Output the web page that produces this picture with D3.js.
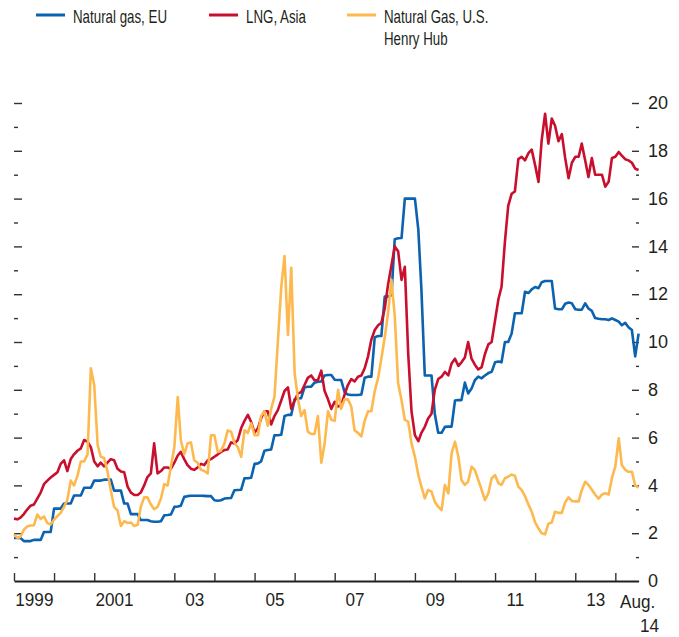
<!DOCTYPE html>
<html>
<head>
<meta charset="utf-8">
<script src="https://cdn.jsdelivr.net/npm/d3@7"></script>
<style>
  body { margin: 0; background: #fff; }
  svg text { font-family: "Liberation Sans", Arial, sans-serif; fill: #231f20; }
</style>
</head>
<body>
<div id="chart"></div>
<script>
// monthly prices, $/MMBtu, Jan 1999 .. Aug 2014

const euGas = [
  1.8, 1.8, 1.8, 1.67, 1.67, 1.67, 1.72, 1.72, 1.72, 2.05, 2.05, 2.05,
  3.03, 3.03, 3.03, 3.24, 3.24, 3.24, 3.58, 3.58, 3.58, 3.9, 3.9, 3.9,
  4.2, 4.2, 4.2, 4.24, 4.24, 4.24, 3.78, 3.78, 3.78, 3.24, 3.24, 2.8,
  2.8, 2.8, 2.55, 2.55, 2.55, 2.5, 2.48, 2.48, 2.5, 2.75, 2.76, 2.78,
  3.1, 3.12, 3.15, 3.52, 3.55, 3.57, 3.57, 3.57, 3.57, 3.56, 3.55, 3.55,
  3.38, 3.36, 3.38, 3.45, 3.46, 3.47, 3.8, 3.81, 3.82, 4.3, 4.3, 4.32,
  4.9, 4.92, 5.0, 5.45, 5.48, 5.5, 6.1, 6.1, 6.12, 6.9, 6.95, 6.95,
  7.6, 7.64, 7.65, 8.1, 8.13, 8.13, 8.3, 8.34, 8.35, 8.6, 8.62, 8.62,
  8.42, 8.41, 8.41, 7.9, 7.8, 7.78, 7.78, 7.78, 7.8, 8.5, 8.55, 8.55,
  10.2, 10.25, 10.25, 11.9, 11.9, 11.95, 14.3, 14.34, 14.35, 16.0, 16.0, 16.0,
  16.0, 14.7, 12.2, 8.6, 8.6, 8.6, 7.0, 6.2, 6.2, 6.45, 6.46, 6.46,
  7.55, 7.57, 7.57, 8.3, 7.85, 8.05, 8.4, 8.55, 8.48, 8.6, 8.7, 8.75,
  9.15, 9.18, 9.15, 10.0, 10.0, 10.35, 11.2, 11.2, 11.2, 12.1, 12.05, 12.2,
  12.3, 12.25, 12.5, 12.55, 12.55, 12.55, 11.4, 11.37, 11.37, 11.6, 11.65, 11.62,
  11.37, 11.35, 11.35, 11.62, 11.4, 11.3, 11.0, 10.97, 10.95, 10.95, 10.92, 10.99,
  10.92, 10.85, 10.7, 10.8, 10.62, 10.5, 9.4, 10.35
];

const lngAsia = [
  2.61, 2.58, 2.65, 2.8, 2.99, 3.15, 3.2, 3.45, 3.7, 4.05, 4.2, 4.33,
  4.44, 4.55, 4.9, 5.05, 4.6, 5.1, 5.3, 5.45, 5.55, 5.9, 5.83, 5.6,
  5.0, 4.8, 4.95, 4.8, 4.95, 5.1, 5.05, 4.7, 4.58, 4.55, 3.95, 3.7,
  3.6, 3.6, 3.7, 4.0, 4.35, 4.5, 5.76, 4.5, 4.6, 4.75, 4.75, 4.7,
  4.95, 5.25, 5.4, 5.1, 4.85, 4.7, 4.65, 4.75, 4.9, 4.85, 5.05, 5.1,
  5.2, 5.3, 5.4, 5.48, 5.5, 5.8, 5.75, 5.9, 6.4, 6.7, 6.95, 6.65,
  6.2, 6.4, 6.8, 7.1, 7.1, 6.55, 6.9, 7.15, 7.55, 7.95, 8.1, 7.2,
  7.55, 7.85, 7.9, 8.2, 8.5, 8.6, 8.4, 8.4, 8.8, 7.95, 7.6, 7.2,
  7.5, 7.3, 7.35, 7.8, 8.2, 8.45, 8.35, 8.55, 8.6, 8.9, 9.4, 10.1,
  10.5, 10.7, 10.8, 11.4, 12.4, 13.2, 14.0, 13.8, 12.6, 13.15, 9.5, 7.1,
  6.1, 5.85, 6.2, 6.45, 6.8, 7.0, 8.0, 8.45, 8.55, 8.75, 8.6, 9.1,
  9.3, 9.0, 9.15, 9.35, 10.0, 9.3, 9.05, 8.85, 8.95, 9.5, 9.9, 10.0,
  10.9, 11.8, 12.3, 14.2, 15.7, 16.2, 16.3, 17.65, 17.75, 17.6, 17.9, 18.05,
  17.4, 16.7, 18.45, 19.55, 18.3, 19.35, 19.05, 18.4, 18.7, 17.7, 16.85, 17.5,
  17.75, 17.75, 18.3, 17.6, 16.9, 17.7, 17.0, 17.0, 17.0, 16.5, 16.7, 17.7,
  17.75, 17.95, 17.8, 17.65, 17.6, 17.5, 17.25, 17.2
];

const henryHub = [
  1.95, 1.8, 1.85, 2.15, 2.28, 2.32, 2.33, 2.78, 2.6, 2.7, 2.42, 2.36,
  2.57, 2.72, 2.85, 3.1, 3.4, 4.2, 4.0, 4.4, 5.0, 5.0, 5.3, 8.9,
  8.2, 5.7, 5.2, 5.15, 4.6, 3.8, 3.1, 2.95, 2.3, 2.5, 2.43, 2.45,
  2.3, 2.35, 3.1, 3.5, 3.5, 3.2, 3.0, 3.1, 3.45, 4.05, 4.0, 4.8,
  5.6, 7.7, 5.9, 5.3, 5.75, 5.8, 5.05, 4.95, 4.65, 4.6, 4.5, 6.1,
  6.1, 5.4, 5.45, 5.75, 6.3, 6.25, 5.8, 5.6, 5.2, 6.3, 6.2, 6.6,
  6.1, 6.1, 6.9, 7.1, 6.5, 7.2, 7.7, 10.0, 12.3, 13.6, 10.3, 13.1,
  8.7, 7.6, 6.9, 7.15, 6.25, 6.15, 6.15, 6.9, 4.95, 5.75, 7.1, 6.75,
  6.7, 8.0, 7.2, 7.6, 7.6, 7.3, 6.3, 6.2, 6.05, 6.7, 7.1, 7.1,
  7.95, 8.5, 9.3, 10.2, 11.2, 12.6, 11.1, 8.27, 7.57, 6.74, 6.67, 5.76,
  5.2, 4.43, 3.95, 3.46, 3.81, 3.74, 3.32, 3.11, 2.97, 4.02, 3.67, 5.34,
  5.83, 5.2, 4.23, 4.02, 4.16, 4.78, 4.64, 4.23, 3.81, 3.39, 3.67, 4.3,
  4.43, 4.09, 4.02, 4.3, 4.37, 4.45, 4.4, 3.95, 3.8, 3.55, 3.2, 2.9,
  2.45, 2.2, 2.0, 1.95, 2.4, 2.45, 2.9, 2.85, 2.85, 3.3, 3.5, 3.35,
  3.33, 3.33, 3.8, 4.15, 4.02, 3.82, 3.62, 3.45, 3.62, 3.67, 3.62, 4.3,
  4.8, 5.97, 4.85, 4.65, 4.57, 4.57, 4.0, 3.9
];

const seriesNames = ["Natural gas, EU", "LNG, Asia", "Natural Gas, U.S.|Henry Hub"];
const seriesColors = ["#0b62b0", "#c8102e", "#fdb94e"];
const yearLabels = ["1999", "2001", "03", "05", "07", "09", "11", "13"];
const yTickValues = [0, 2, 4, 6, 8, 10, 12, 14, 16, 18, 20];

const width = 679;
const height = 637;
const plot = { left: 14, right: 638.6, top: 103, bottom: 581 };

const startDate = new Date(1999, 0, 1);
const dates = euGas.map((d, i) => new Date(1999, i, 1));

const svg = d3.select('#chart')
  .append('svg')
  .attr('width', width)
  .attr('height', height);

const x = d3.scaleTime()
  .domain([startDate, dates[dates.length - 1]])
  .range([plot.left, plot.right]);

const y = d3.scaleLinear()
  .domain([0, 20])
  .range([plot.bottom, plot.top]);

// the original font is a condensed face, squeeze ours a bit
function squeeze(sel, f) {
  sel.each(function() {
    const w = this.getComputedTextLength();
    d3.select(this).attr('textLength', w * f).attr('lengthAdjust', 'spacingAndGlyphs');
  });
}

// y ticks, left side (no labels)
const minorVals = d3.range(1, 20, 2);
const majorVals = d3.range(2, 21, 2);

function styleTicks(g) {
  g.select('.domain').remove();
  g.selectAll('.tick line').attr('stroke', '#333').attr('stroke-width', 1.4);
  g.selectAll('.tick text').remove();
}

svg.append('g')
  .attr('transform', `translate(${plot.left},0)`)
  .call(d3.axisRight(y).tickValues(majorVals).tickSize(8))
  .call(styleTicks);
svg.append('g')
  .attr('transform', `translate(${plot.left},0)`)
  .call(d3.axisRight(y).tickValues(minorVals).tickSize(4))
  .call(styleTicks);

// right side ticks + labels
svg.append('g')
  .attr('transform', `translate(639,0)`)
  .call(d3.axisLeft(y).tickValues(majorVals).tickSize(7))
  .call(styleTicks);
svg.append('g')
  .attr('transform', `translate(639,0)`)
  .call(d3.axisLeft(y).tickValues(minorVals).tickSize(3))
  .call(styleTicks);

const yLabels = svg.append('g')
  .attr('transform', `translate(639,0)`)
  .call(d3.axisRight(y).tickValues(yTickValues).tickSize(0).tickPadding(9))
yLabels.select('.domain').remove();
yLabels.selectAll('text')
  .attr('font-size', 18)
  .attr('font-family', null)
  .attr('fill', '#231f20');

// lines
const line = d3.line()
  .x((d, i) => x(dates[i]))
  .y(d => y(d));

[euGas, lngAsia, henryHub].forEach((s, k) => {
  svg.append('path')
    .datum(s)
    .attr('fill', 'none')
    .attr('stroke', seriesColors[k])
    .attr('stroke-width', 2.6)
    .attr('stroke-linejoin', 'round')
    .attr('d', line);
});

// x axis
const years = d3.timeYear.range(new Date(1999, 0, 1), new Date(2014, 1, 1));
const xAxis = svg.append('g')
  .attr('transform', `translate(0,${plot.bottom})`)
  .call(d3.axisBottom(x).tickValues(years).tickSize(-8).tickSizeOuter(0).tickFormat(''));
xAxis.select('.domain').attr('stroke', '#231f20').attr('stroke-width', 2);
xAxis.selectAll('.tick line').attr('stroke', '#333').attr('stroke-width', 1.4);

const labelDates = yearLabels.map((t, i) => new Date(1999 + i * 2, 6, 1));
const xLabels = svg.append('g')
  .attr('transform', `translate(0,${plot.bottom})`)
  .call(d3.axisBottom(x).tickValues(labelDates).tickSize(0).tickPadding(12)
    .tickFormat((d, i) => yearLabels[i]));
xLabels.select('.domain').remove();
xLabels.selectAll('text').attr('font-size', 19).attr('font-family', null).attr('fill', '#231f20')
  .call(squeeze, 0.9);

svg.append('text')
  .attr('x', 620).attr('y', 608)
  .attr('font-size', 19)
  .text('Aug.')
  .call(squeeze, 0.9);
svg.append('text')
  .attr('x', 640).attr('y', 632)
  .attr('font-size', 19)
  .text('14')
  .call(squeeze, 0.9);

// legend
const legendX = [36, 209, 347];
seriesNames.forEach((name, k) => {
  const g = svg.append('g').attr('transform', `translate(${legendX[k]},0)`);
  g.append('line')
    .attr('x1', 0).attr('x2', 29)
    .attr('y1', 15).attr('y2', 15)
    .attr('stroke', seriesColors[k])
    .attr('stroke-width', 3);
  name.split('|').forEach((t, j) => {
    g.append('text')
      .attr('x', 37).attr('y', 23 + j * 22)
      .attr('font-size', 18.5)
      .text(t)
      .call(squeeze, 0.72);
  });
});
</script>
</body>
</html>
